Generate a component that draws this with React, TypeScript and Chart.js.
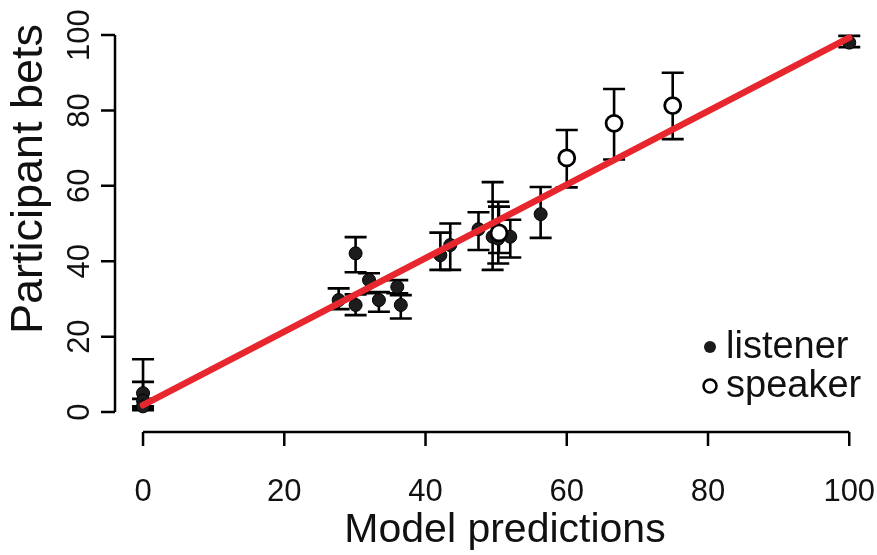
import React, { useEffect, useRef } from "react";
import Chart from "chart.js/auto";

// ---- data ----
const listenerX = [0, 0, 0, 27.7, 30.1, 30.1, 32, 33.4, 36, 36.5, 42.1, 43.5, 47.5, 49.5, 50.3, 52, 56.3, 100];
const listenerY = [5, 3, 1.5, 29.7, 42.1, 28.4, 35, 29.7, 33.2, 28.4, 41.6, 44.3, 48.5, 46.5, 46, 46.5, 52.5, 98];
const listenerLo = [1.5, 1, 0.5, 27.3, 37.1, 25.7, 31.5, 26.6, 31.5, 24.8, 37.7, 37.7, 43, 37.7, 39.4, 41, 46.2, 96.8];
const listenerHi = [14, 8, 3.5, 32.8, 46.4, 31.2, 36.8, 31.8, 35, 31, 47.6, 50, 53, 61, 55.8, 51, 59.7, 99.8];

const speakerX = [50.4, 60, 66.7, 75];
const speakerY = [47.5, 67.4, 76.6, 81.3];
const speakerLo = [42.2, 59.6, 67, 72.4];
const speakerHi = [54.5, 74.8, 85.7, 90];

const fitX = [0, 100];
const fitY = [1.8, 99.3];

const xTicks = [0, 20, 40, 60, 80, 100];
const yTicks = [0, 20, 40, 60, 80, 100];

const xTitle = "Model predictions";
const yTitle = "Participant bets";
const seriesNames = ["listener", "speaker"];

const FONT = "'Liberation Sans', Arial, Helvetica, sans-serif";
const RED = "#e8262d";

const errorBars = [
  { x: listenerX, lo: listenerLo, hi: listenerHi },
  { x: speakerX, lo: speakerLo, hi: speakerHi },
];

const errorBarPlugin = {
  id: "errorBars",
  beforeDatasetsDraw(chart: any) {
    const { ctx, scales } = chart;
    const xs = scales.x;
    const ys = scales.y;
    ctx.save();
    ctx.strokeStyle = "#000";
    ctx.lineWidth = 2.6;
    ctx.lineCap = "butt";
    errorBars.forEach((s) => {
      s.x.forEach((xv, i) => {
        const px = xs.getPixelForValue(xv);
        const pl = ys.getPixelForValue(s.lo[i]);
        const ph = ys.getPixelForValue(s.hi[i]);
        ctx.beginPath();
        ctx.moveTo(px, pl);
        ctx.lineTo(px, ph);
        ctx.moveTo(px - 11, pl);
        ctx.lineTo(px + 11, pl);
        ctx.moveTo(px - 11, ph);
        ctx.lineTo(px + 11, ph);
        ctx.stroke();
      });
    });
    ctx.restore();
  },
};

const axesPlugin = {
  id: "rAxes",
  afterDraw(chart: any) {
    const { ctx, scales, chartArea } = chart;
    const xs = scales.x;
    const ys = scales.y;
    ctx.save();
    ctx.strokeStyle = "#000";
    ctx.fillStyle = "#111";
    ctx.lineWidth = 2.5;
    // x axis
    const ay = chartArea.bottom;
    const x0 = xs.getPixelForValue(xTicks[0]);
    const x1 = xs.getPixelForValue(xTicks[xTicks.length - 1]);
    ctx.beginPath();
    ctx.moveTo(x0, ay);
    ctx.lineTo(x1, ay);
    xTicks.forEach((t) => {
      const px = xs.getPixelForValue(t);
      ctx.moveTo(px, ay);
      ctx.lineTo(px, ay + 14);
    });
    ctx.stroke();
    ctx.font = `31px ${FONT}`;
    ctx.textAlign = "center";
    ctx.textBaseline = "middle";
    xTicks.forEach((t) => {
      ctx.fillText(String(t), xs.getPixelForValue(t), 492);
    });
    ctx.font = `41px ${FONT}`;
    ctx.fillText(xTitle, 505, 531);

    // y axis
    const ax = chartArea.left;
    const y0 = ys.getPixelForValue(yTicks[0]);
    const y1 = ys.getPixelForValue(yTicks[yTicks.length - 1]);
    ctx.beginPath();
    ctx.moveTo(ax, y0);
    ctx.lineTo(ax, y1);
    yTicks.forEach((t) => {
      const py = ys.getPixelForValue(t);
      ctx.moveTo(ax, py);
      ctx.lineTo(ax - 14, py);
    });
    ctx.stroke();
    ctx.font = `31px ${FONT}`;
    yTicks.forEach((t) => {
      const py = ys.getPixelForValue(t);
      ctx.save();
      ctx.translate(80, py);
      ctx.rotate(-Math.PI / 2);
      ctx.fillText(String(t), 0, 0);
      ctx.restore();
    });
    ctx.save();
    ctx.font = `45px ${FONT}`;
    ctx.translate(30, 179);
    ctx.rotate(-Math.PI / 2);
    ctx.fillText(yTitle, 0, 0);
    ctx.restore();

    // legend
    ctx.textAlign = "left";
    ctx.font = `38px ${FONT}`;
    ctx.fillStyle = "#1a1a1a";
    ctx.beginPath();
    ctx.arc(710, 347, 6, 0, Math.PI * 2);
    ctx.fill();
    ctx.fillStyle = "#111";
    ctx.fillText(seriesNames[0], 726, 348);
    ctx.beginPath();
    ctx.arc(710, 386, 6.5, 0, Math.PI * 2);
    ctx.fillStyle = "#fff";
    ctx.fill();
    ctx.lineWidth = 2.5;
    ctx.stroke();
    ctx.fillStyle = "#111";
    ctx.fillText(seriesNames[1], 726, 387);
    ctx.restore();
  },
};

export default function App() {
  const ref = useRef<HTMLCanvasElement | null>(null);
  useEffect(() => {
    if (!ref.current) return;
    const chart = new Chart(ref.current, {
      type: "scatter",
      data: {
        datasets: [
          {
            type: "line",
            label: "fit",
            data: fitX.map((x, i) => ({ x, y: fitY[i] })),
            borderColor: RED,
            borderWidth: 6.5,
            pointRadius: 0,
            showLine: true,
            fill: false,
            borderCapStyle: "round",
            order: 0,
          } as any,
          {
            label: seriesNames[0],
            data: listenerX.map((x, i) => ({ x, y: listenerY[i] })),
            pointRadius: 6.5,
            backgroundColor: "#1c1c1c",
            borderColor: "#000",
            borderWidth: 1,
            order: 2,
          },
          {
            label: seriesNames[1],
            data: speakerX.map((x, i) => ({ x, y: speakerY[i] })),
            pointRadius: 8,
            backgroundColor: "#fff",
            borderColor: "#000",
            borderWidth: 2.8,
            order: 1,
          },
        ],
      },
      options: {
        responsive: false,
        animation: false,
        layout: { padding: { left: 115, right: 1, top: 20, bottom: 123 } },
        plugins: { legend: { display: false }, tooltip: { enabled: false } },
        scales: {
          x: { type: "linear", min: -3.97, max: 102.4, display: false },
          y: { type: "linear", min: -5.3, max: 104, display: false },
        },
      },
      plugins: [errorBarPlugin, axesPlugin],
    });
    return () => chart.destroy();
  }, []);
  return (
    <div style={{ position: "absolute", left: 0, top: 0, width: 877, height: 555, background: "#fff" }}>
      <canvas ref={ref} width={877} height={555} />
    </div>
  );
}
